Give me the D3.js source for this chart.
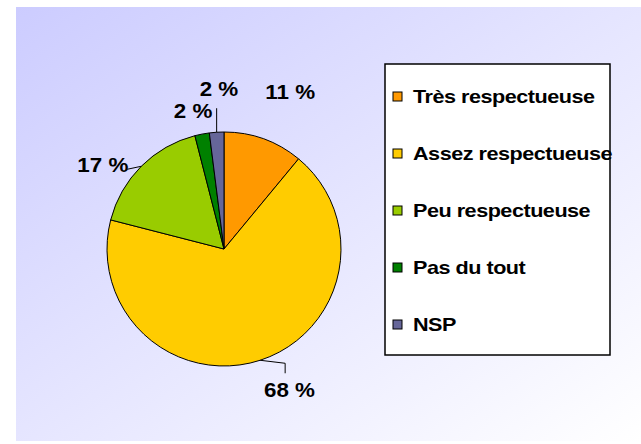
<!DOCTYPE html>
<html>
<head>
<meta charset="utf-8">
<script src="https://cdn.jsdelivr.net/npm/d3@7"></script>
<style>
    body { margin: 0; background: #fff; }
    text { font-family: "Liberation Sans", Arial, sans-serif; font-weight: bold; fill: #000; }
</style>
</head>
<body>
<svg id="chart" width="641" height="444"></svg>
<script>
// categories and values (percent)
const categories = ["Très respectueuse", "Assez respectueuse", "Peu respectueuse", "Pas du tout", "NSP"];
const values = [11, 68, 17, 2, 2];
const colors = ["#FF9900", "#FFCC00", "#99CC00", "#008000", "#666699"];

// label nudges from the outer label ring, and leader line shapes (relative to slice edge)
const labelNudge = [[12, 1], [16, -4], [-8, 36], [-1, 26], [5, 7]];
const leaders = [null, [[25, 3], [25, 13]], [[-14, 3]], null, [[0, -24]]];

let svg = d3.select('#chart');

// background panel with diagonal gradient
let defs = svg.append("defs");
let grad = defs.append("linearGradient")
    .attr("id", "bg")
    .attr("x1", "0%").attr("y1", "0%")
    .attr("x2", "100%").attr("y2", "100%");
grad.append("stop").attr("offset", "0%").attr("stop-color", "#ccccff");
grad.append("stop").attr("offset", "100%").attr("stop-color", "#ffffff");

svg.append("rect")
    .attr("x", 16).attr("y", 7)
    .attr("width", 625).attr("height", 434)
    .attr("fill", "url(#bg)");

// pie
let cx = 224, cy = 249, radius = 117, labelRadius = 160;
let data = categories.map((c, i) => ({name: c, value: values[i], color: colors[i], i: i}));

let pie = d3.pie().sort(null).value(d => d.value);
let arc = d3.arc().innerRadius(0).outerRadius(radius);
let edgeArc = d3.arc().innerRadius(radius).outerRadius(radius);
let labelArc = d3.arc().innerRadius(labelRadius).outerRadius(labelRadius);

let g = svg.append("g").attr("transform", "translate(" + cx + "," + cy + ")");
let arcs = pie(data);

g.selectAll("path.slice")
    .data(arcs)
    .enter()
    .append("path")
    .attr("class", "slice")
    .attr("d", arc)
    .attr("fill", d => d.data.color)
    .attr("stroke", "#000")
    .attr("stroke-width", 1);

// leader lines
g.selectAll("path.leader")
    .data(arcs.filter(d => leaders[d.data.i]))
    .enter()
    .append("path")
    .attr("class", "leader")
    .attr("fill", "none")
    .attr("stroke", "#000")
    .attr("stroke-width", 1)
    .attr("d", function (d) {
        let p = edgeArc.centroid(d);
        let pts = [p].concat(leaders[d.data.i].map(o => [p[0] + o[0], p[1] + o[1]]));
        return d3.line()(pts);
    });

// percent labels (glyphs are a bit stretched in the original)
g.selectAll("text.pct")
    .data(arcs)
    .enter()
    .append("text")
    .attr("class", "pct")
    .attr("text-anchor", "middle")
    .attr("font-size", 20)
    .attr("transform", function (d) {
        let p = labelArc.centroid(d);
        let n = labelNudge[d.data.i];
        return "translate(" + (p[0] + n[0]) + "," + (p[1] + n[1]) + ") scale(1.12,1)";
    })
    .text(d => d.data.value + " %");

// legend
let legend = svg.append("g").attr("transform", "translate(385,64)");
legend.append("rect")
    .attr("width", 225).attr("height", 291)
    .attr("fill", "#fff")
    .attr("stroke", "#000")
    .attr("stroke-width", 1.5);

let rowY = d3.scalePoint().domain(categories).range([39, 267]);

let items = legend.selectAll("g.item")
    .data(data)
    .enter()
    .append("g")
    .attr("class", "item")
    .attr("transform", d => "translate(0," + rowY(d.name) + ")");

items.append("rect")
    .attr("x", 8).attr("y", -11)
    .attr("width", 9).attr("height", 9)
    .attr("fill", d => d.color)
    .attr("stroke", "#000")
    .attr("stroke-width", 1);

items.append("text")
    .attr("transform", "translate(28,0) scale(1.2,1)")
    .attr("font-size", 18)
    .attr("letter-spacing", -0.4)
    .text(d => d.name);
</script>
</body>
</html>
